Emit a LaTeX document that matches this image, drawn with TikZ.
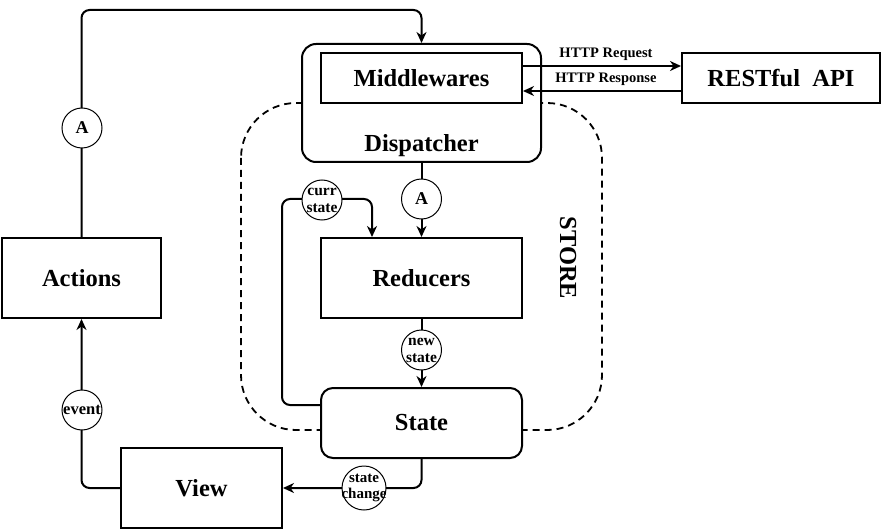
\documentclass[tikz,border=0pt]{standalone}
\usepackage{fontspec}
\setmainfont{Liberation Serif}
\usetikzlibrary{arrows.meta,calc}
\begin{document}
\begin{tikzpicture}[x=1pt,y=-1pt,
  line width=2pt,
  box/.style={draw,fill=white,inner sep=0pt,font=\fontsize{24.5}{28}\selectfont\bfseries},
  rbox/.style={box,rounded corners=14pt},
  circ/.style={draw,fill=white,circle,inner sep=-4pt,line width=1pt,minimum size=40pt,align=center,font=\fontsize{15.5}{17}\selectfont\bfseries},
  arr/.style={-{Stealth[length=11pt,width=10pt,inset=3.5pt]},rounded corners=8pt},
  lbl/.style={font=\fontsize{14.5}{16}\selectfont\bfseries,inner sep=0pt}]
\useasboundingbox (0,0) rectangle (882,529);
% store boundary
\draw[dashed,line width=1.8pt,dash pattern=on 7pt off 5pt,rounded corners=55pt] (241,103) rectangle (602,430);
\node[font=\fontsize{24.5}{28}\selectfont\bfseries,rotate=-90] (store) at (568,258) {STORE};
% boxes
\node[rbox,minimum width=239pt,minimum height=118pt] (disp) at (421.5,103) {};
\node[box,minimum width=201pt,minimum height=50pt] (mid) at (421.5,78) {Middlewares};
\node[font=\fontsize{24.5}{28}\selectfont\bfseries,inner sep=0pt] (disptxt) at (421.5,146) {Dispatcher};
\node[box,minimum width=198pt,minimum height=50pt] (rest) at (781,78) {RESTful\ \ API};
\node[box,minimum width=201pt,minimum height=80pt] (red) at (421.5,278) {Reducers};
\node[rbox,rounded corners=12pt,minimum width=201pt,minimum height=70pt] (state) at (421.5,423) {State};
\node[box,minimum width=159pt,minimum height=80pt] (actions) at (81.5,278) {Actions};
\node[box,minimum width=161pt,minimum height=80pt] (view) at (201.5,488) {View};
% connectors
\coordinate (top) at (250,10);
\draw[arr] (actions.north) |- (top) -| (disp.north);
\draw[arr] ([yshift=12pt]mid.east) -- ([yshift=12pt]rest.west);
\draw[arr] ([yshift=-13pt]rest.west) -- ([yshift=-13pt]mid.east);
\node[lbl] (req) at (606,54) {HTTP Request};
\node[lbl] (resp) at (606,79) {HTTP Response};
\draw[arr] (disp.south) -- (red.north);
\coordinate (loopl) at (282,199);
\draw[arr] ([yshift=18pt]state.west) -| (loopl) -| ([xshift=-49.5pt]red.north);
\draw[arr] (red.south) -- (state.north);
\draw[arr] (state.south) |- (view.east);
\draw[arr] (view.west) -| (actions.south);
% circles
\node[circ,inner sep=0pt,font=\fontsize{18}{18}\selectfont\bfseries] (ca1) at (82,128) {A};
\node[circ,inner sep=0pt,font=\fontsize{18}{18}\selectfont\bfseries] (ca2) at (421.5,199) {A};
\node[circ] (curr) at (322,200) {curr\\state};
\node[circ] (new) at (421.5,350) {new\\state};
\node[circ,minimum size=44pt,inner sep=-8pt,font=\fontsize{15}{16.5}\selectfont\bfseries] (chg) at (364,488) {state\\change};
\node[circ,font=\fontsize{16.5}{18}\selectfont\bfseries] (ev) at (82,410) {event};
\end{tikzpicture}
\end{document}
